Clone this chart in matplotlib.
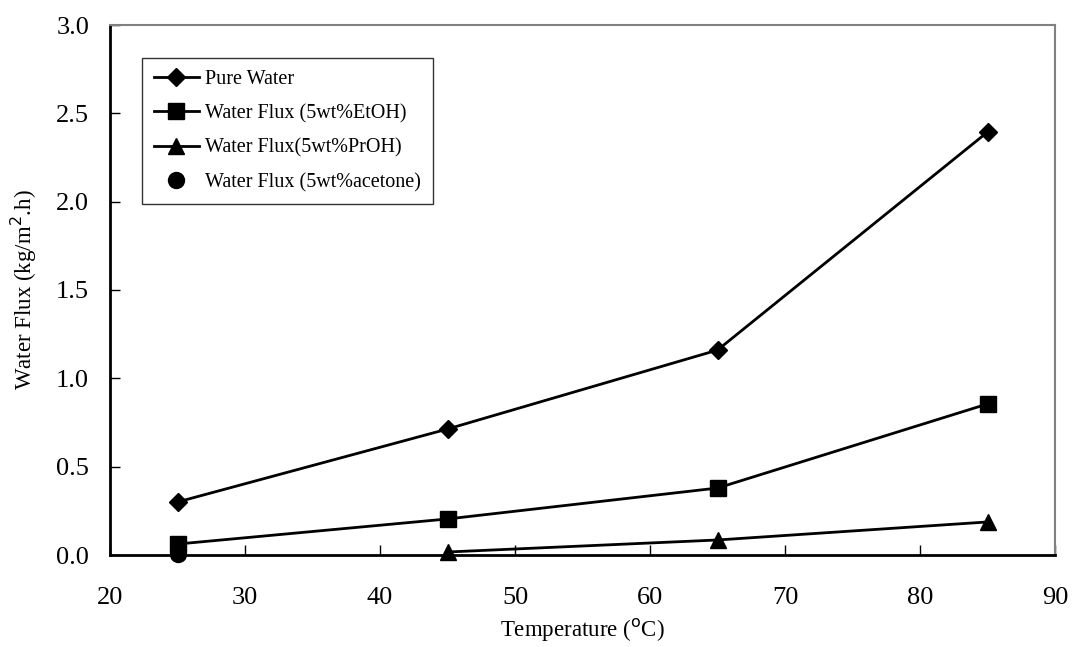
import matplotlib
matplotlib.use("Agg")
import matplotlib.pyplot as plt

plt.rcParams['font.family'] = ['Liberation Serif', 'DejaVu Serif']

temps = [25, 45, 65, 85]
pure_water = [0.30, 0.713, 1.16, 2.394]
etoh = [0.062, 0.204, 0.379, 0.855]
proh_temps = [45, 65, 85]
proh = [0.017, 0.085, 0.187]
acetone_temps = [25]
acetone = [0.003]

fig = plt.figure(figsize=(10.73, 6.47), dpi=100)
ax = fig.add_axes([110 / 1073, 1 - 555 / 647, 945 / 1073, 530 / 647])

ax.plot(temps, pure_water, color='black', lw=2, marker='D', ms=9, label='Pure Water', clip_on=False)
ax.plot(temps, etoh, color='black', lw=2, marker='s', ms=11.5, label='Water Flux (5wt%EtOH)', clip_on=False)
ax.plot(proh_temps, proh, color='black', lw=2, marker='^', ms=11, label='Water Flux(5wt%PrOH)', clip_on=False)
ax.plot(acetone_temps, acetone, color='black', lw=0, marker='o', ms=11.5, label='Water Flux (5wt%acetone)', clip_on=False)

ax.set_xlim(20, 90)
ax.set_ylim(0, 3.0)
ax.set_xticks(range(20, 91, 10))
ax.set_yticks([0, 0.5, 1.0, 1.5, 2.0, 2.5, 3.0])
ax.set_yticklabels(['0.0', '0.5', '1.0', '1.5', '2.0', '2.5', '3.0'])
ax.tick_params(direction='in', length=7, width=1, labelsize=19)
ax.tick_params(axis='x', pad=23)
ax.tick_params(axis='y', pad=15)

for s in ['left', 'bottom']:
    ax.spines[s].set_linewidth(2)
    ax.spines[s].set_color('black')
for s in ['top', 'right']:
    ax.spines[s].set_linewidth(1.5)
    ax.spines[s].set_color('#808080')

ax.set_xlabel('Temperature ($^{\\mathrm{o}}$C)', fontsize=16.5, labelpad=6)
ax.set_ylabel('Water Flux (kg/m$^{2}$.h)', fontsize=16.5, labelpad=12)

leg = ax.legend(loc='upper left', bbox_to_anchor=(0.034, 0.938), borderaxespad=0,
                fontsize=14.5, frameon=True, fancybox=False, edgecolor='black',
                borderpad=0.6, labelspacing=0.75, handlelength=2.2, handletextpad=0.3)
leg.get_frame().set_linewidth(1)

fig.savefig('out.png', dpi=100)
